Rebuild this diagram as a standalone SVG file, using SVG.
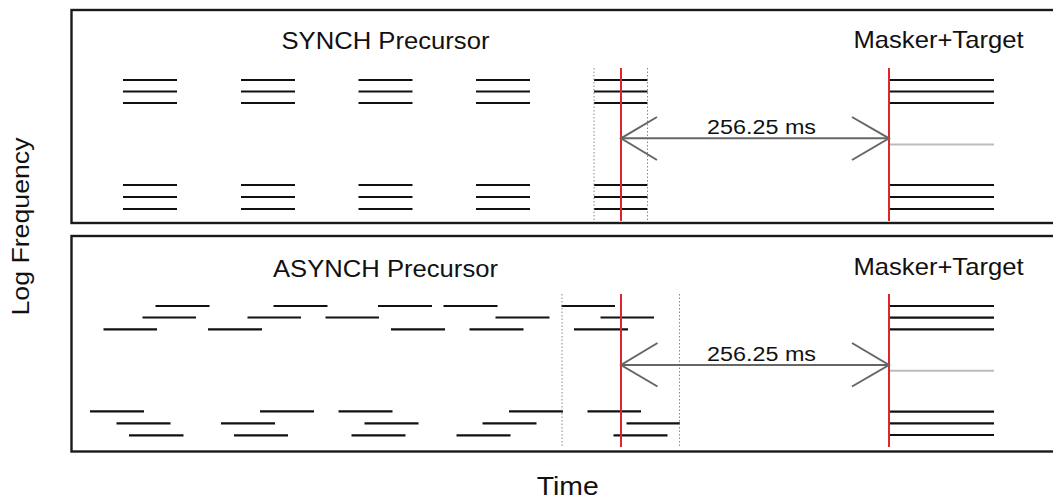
<svg xmlns="http://www.w3.org/2000/svg" width="1053" height="500" viewBox="0 0 1053 500">
<style>
  text { font-family: "Liberation Sans", Arial, sans-serif; fill: #111; }
  .panel { fill: #fff; stroke: #1a1a1a; stroke-width: 2.4; }
  .tone line { stroke: #111; stroke-width: 2.2; }
  .red { stroke: #e0262b; stroke-width: 2; }
  .dot { stroke: #888; stroke-width: 1; stroke-dasharray: 1.5 2; }
  .arr { stroke: #666; stroke-width: 2; fill: none; }
  .tgt { stroke: #bbb; stroke-width: 2; }
</style>
<rect width="1053" height="500" fill="#fff"/>

<g id="panel-synch">
  <rect class="panel" x="71.5" y="10" width="1000" height="213"/>
  <text x="281.5" y="49" font-size="24" textLength="208" lengthAdjust="spacingAndGlyphs">SYNCH Precursor</text>
  <text x="853.5" y="48" font-size="24" textLength="170" lengthAdjust="spacingAndGlyphs">Masker+Target</text>
  <g class="tone">
    <line x1="123" y1="80" x2="177" y2="80"/><line x1="123" y1="91.5" x2="177" y2="91.5"/><line x1="123" y1="103" x2="177" y2="103"/>
    <line x1="123" y1="185" x2="177" y2="185"/><line x1="123" y1="197" x2="177" y2="197"/><line x1="123" y1="209" x2="177" y2="209"/>
    <line x1="241" y1="80" x2="295" y2="80"/><line x1="241" y1="91.5" x2="295" y2="91.5"/><line x1="241" y1="103" x2="295" y2="103"/>
    <line x1="241" y1="185" x2="295" y2="185"/><line x1="241" y1="197" x2="295" y2="197"/><line x1="241" y1="209" x2="295" y2="209"/>
    <line x1="358.5" y1="80" x2="412.5" y2="80"/><line x1="358.5" y1="91.5" x2="412.5" y2="91.5"/><line x1="358.5" y1="103" x2="412.5" y2="103"/>
    <line x1="358.5" y1="185" x2="412.5" y2="185"/><line x1="358.5" y1="197" x2="412.5" y2="197"/><line x1="358.5" y1="209" x2="412.5" y2="209"/>
    <line x1="476" y1="80" x2="530" y2="80"/><line x1="476" y1="91.5" x2="530" y2="91.5"/><line x1="476" y1="103" x2="530" y2="103"/>
    <line x1="476" y1="185" x2="530" y2="185"/><line x1="476" y1="197" x2="530" y2="197"/><line x1="476" y1="209" x2="530" y2="209"/>
    <line x1="594" y1="80" x2="647.5" y2="80"/><line x1="594" y1="91.5" x2="647.5" y2="91.5"/><line x1="594" y1="103" x2="647.5" y2="103"/>
    <line x1="594" y1="185" x2="647.5" y2="185"/><line x1="594" y1="197" x2="647.5" y2="197"/><line x1="594" y1="209" x2="647.5" y2="209"/>
    <line x1="889" y1="80" x2="994" y2="80"/><line x1="889" y1="91.5" x2="994" y2="91.5"/><line x1="889" y1="103" x2="994" y2="103"/>
    <line x1="889" y1="185" x2="994" y2="185"/><line x1="889" y1="197" x2="994" y2="197"/><line x1="889" y1="209" x2="994" y2="209"/>
  </g>
  <line class="tgt" x1="889" y1="144.5" x2="994" y2="144.5"/>
  <line class="dot" x1="594" y1="68" x2="594" y2="221"/>
  <line class="dot" x1="647.5" y1="68" x2="647.5" y2="221"/>
  <line class="red" x1="621" y1="68" x2="621" y2="221"/>
  <line class="red" x1="889" y1="68" x2="889" y2="221"/>
  <text x="707" y="134.3" font-size="20" textLength="109" lengthAdjust="spacingAndGlyphs">256.25 ms</text>
</g>

<g id="panel-asynch">
  <rect class="panel" x="71.5" y="236" width="1000" height="215.5"/>
  <text x="273" y="276.5" font-size="24" textLength="225" lengthAdjust="spacingAndGlyphs">ASYNCH Precursor</text>
  <text x="853.5" y="274.5" font-size="24" textLength="170" lengthAdjust="spacingAndGlyphs">Masker+Target</text>
  <g class="tone">
    <line x1="155.5" y1="306" x2="209.5" y2="306"/><line x1="273.5" y1="306" x2="327.5" y2="306"/><line x1="378" y1="306" x2="432" y2="306"/><line x1="443.5" y1="306" x2="497.5" y2="306"/><line x1="561.5" y1="306" x2="615" y2="306"/>
    <line x1="142.5" y1="317.5" x2="196" y2="317.5"/><line x1="247.5" y1="317.5" x2="301" y2="317.5"/><line x1="325.5" y1="317.5" x2="379" y2="317.5"/><line x1="495.5" y1="317.5" x2="549.5" y2="317.5"/><line x1="600.5" y1="317.5" x2="654" y2="317.5"/>
    <line x1="103.5" y1="329.3" x2="157" y2="329.3"/><line x1="208" y1="329.3" x2="262" y2="329.3"/><line x1="391" y1="329.3" x2="445" y2="329.3"/><line x1="469.5" y1="329.3" x2="523.5" y2="329.3"/><line x1="574" y1="329.3" x2="628" y2="329.3"/>
    <line x1="90" y1="411.3" x2="144" y2="411.3"/><line x1="260" y1="411.3" x2="314" y2="411.3"/><line x1="338.5" y1="411.3" x2="392.5" y2="411.3"/><line x1="509" y1="411.3" x2="563" y2="411.3"/><line x1="587.5" y1="411.3" x2="641" y2="411.3"/>
    <line x1="116.5" y1="423.3" x2="170.5" y2="423.3"/><line x1="221" y1="423.3" x2="275" y2="423.3"/><line x1="364.5" y1="423.3" x2="418.5" y2="423.3"/><line x1="482.5" y1="423.3" x2="536.5" y2="423.3"/><line x1="626.5" y1="423.3" x2="680" y2="423.3"/>
    <line x1="129" y1="435.3" x2="183.5" y2="435.3"/><line x1="234" y1="435.3" x2="288" y2="435.3"/><line x1="351.5" y1="435.3" x2="405.5" y2="435.3"/><line x1="456.5" y1="435.3" x2="510.5" y2="435.3"/><line x1="613.5" y1="435.3" x2="667.5" y2="435.3"/>
    <line x1="889" y1="306" x2="994" y2="306"/><line x1="889" y1="317.7" x2="994" y2="317.7"/><line x1="889" y1="329.3" x2="994" y2="329.3"/>
    <line x1="889" y1="411.7" x2="994" y2="411.7"/><line x1="889" y1="423.3" x2="994" y2="423.3"/><line x1="889" y1="435" x2="994" y2="435"/>
  </g>
  <line class="tgt" x1="889" y1="370.7" x2="994" y2="370.7"/>
  <line class="dot" x1="562" y1="294" x2="562" y2="448"/>
  <line class="dot" x1="679.5" y1="294" x2="679.5" y2="448"/>
  <line class="red" x1="621" y1="294" x2="621" y2="447"/>
  <line class="red" x1="889" y1="294" x2="889" y2="447"/>
  <text x="707" y="361.3" font-size="20" textLength="109" lengthAdjust="spacingAndGlyphs">256.25 ms</text>
</g>

<g id="connectors">
  <line class="arr" x1="621" y1="138.3" x2="889" y2="138.3"/>
  <polyline class="arr" points="657,117 621,138.3 657,160"/>
  <polyline class="arr" points="852,117 889,138.3 852,160"/>
  <line class="arr" x1="621" y1="365" x2="889" y2="365"/>
  <polyline class="arr" points="657.5,343 621,365 657.5,386.5"/>
  <polyline class="arr" points="852,343 889,365 852,386.5"/>
</g>

<g id="axis-labels">
  <text x="28.5" y="226.5" font-size="24" text-anchor="middle" textLength="178" lengthAdjust="spacingAndGlyphs" transform="rotate(-90 28.5 226.5)">Log Frequency</text>
  <text x="536.8" y="495" font-size="25" textLength="62" lengthAdjust="spacingAndGlyphs">Time</text>
</g>
</svg>
